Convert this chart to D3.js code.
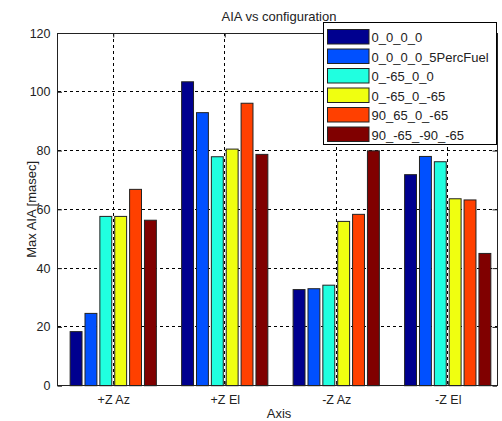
<!DOCTYPE html>
<html><head><meta charset="utf-8">
<script src="https://cdn.jsdelivr.net/npm/d3@7"></script>
<style>body{margin:0;background:#fff;}svg{display:block;font-family:"Liberation Sans",Arial,sans-serif;}</style>
</head><body>
<script>
const categories = ["+Z Az", "+Z El", "-Z Az", "-Z El"];
const seriesNames = ["0_0_0_0", "0_0_0_0_5PercFuel", "0_-65_0_0", "0_-65_0_-65", "90_65_0_-65", "90_-65_-90_-65"];
const seriesColors = ["#00008F", "#0050FF", "#20FFE0", "#F0FF10", "#FF4000", "#800000"];
const s0 = [18.4, 103.4, 32.7, 71.8];
const s1 = [24.6, 92.9, 33.0, 78.0];
const s2 = [57.6, 77.9, 34.2, 76.2];
const s3 = [57.6, 80.5, 55.9, 63.6];
const s4 = [66.8, 96.1, 58.3, 63.2];
const s5 = [56.3, 78.7, 79.9, 45.0];
const series = [s0, s1, s2, s3, s4, s5];
const yTicks = [0, 20, 40, 60, 80, 100, 120];

const W = 502, H = 421;
const L = 57.5, R = 497, T = 33, B = 385.7;
const svg = d3.select("body").append("svg").attr("width", W).attr("height", H);

const x = d3.scaleLinear().domain([0.5, 4.442]).range([L, R]);
const y = d3.scaleLinear().domain([0, 120]).range([B, T]);

// grid
const g = svg.append("g");
yTicks.slice(1, -1).forEach(t => {
  g.append("line").attr("x1", L).attr("x2", R).attr("y1", y(t)).attr("y2", y(t))
    .attr("stroke", "#000").attr("stroke-width", 1).attr("stroke-dasharray", "3,3").attr("shape-rendering", "crispEdges");
});
categories.forEach((c, i) => {
  g.append("line").attr("x1", x(i + 1)).attr("x2", x(i + 1)).attr("y1", T).attr("y2", B)
    .attr("stroke", "#000").attr("stroke-width", 1).attr("stroke-dasharray", "3,3").attr("shape-rendering", "crispEdges");
});

// bars
const n = series.length;
const sub = 0.8 / n;
const bw = sub * 0.8;
series.forEach((s, j) => {
  const off = -0.4 + (j + 0.5) * sub;
  svg.append("g").selectAll("rect").data(s).join("rect")
    .attr("x", (d, i) => x(i + 1 + off - bw / 2))
    .attr("width", x(bw) - x(0))
    .attr("y", d => y(d))
    .attr("height", d => y(0) - y(d))
    .attr("fill", seriesColors[j])
    .attr("stroke", "#222").attr("stroke-width", 1);
});

// axes box
const ax = svg.append("g");
ax.append("rect").attr("x", L).attr("y", T).attr("width", R - L).attr("height", B - T)
  .attr("fill", "none").attr("stroke", "#222").attr("stroke-width", 1).attr("shape-rendering", "crispEdges");

const tl = 4.5;
const yAxis = d3.axisLeft(y).tickValues(yTicks).tickSize(-tl).tickPadding(7).tickFormat(d3.format("d"));
const ya = svg.append("g").attr("transform", `translate(${L},0)`).call(yAxis);
ya.select(".domain").remove();
ya.selectAll("line").attr("stroke", "#222");
ya.selectAll("text").attr("font-size", "12.5px").attr("fill", "#222").attr("font-family", "Liberation Sans, Arial, sans-serif");

const yr = svg.append("g").attr("transform", `translate(${R},0)`).call(d3.axisRight(y).tickValues(yTicks).tickSize(-tl).tickFormat(""));
yr.select(".domain").remove();
yr.selectAll("line").attr("stroke", "#222");

const xs = d3.axisBottom(x).tickValues([1, 2, 3, 4]).tickSize(-tl).tickPadding(9).tickFormat((d) => categories[d - 1]);
const xa = svg.append("g").attr("transform", `translate(0,${B})`).call(xs);
xa.select(".domain").remove();
xa.selectAll("line").attr("stroke", "#222");
xa.selectAll("text").attr("font-size", "12.5px").attr("fill", "#222").attr("font-family", "Liberation Sans, Arial, sans-serif");

const xt = svg.append("g").attr("transform", `translate(0,${T})`).call(d3.axisTop(x).tickValues([1, 2, 3, 4]).tickSize(-tl).tickFormat(""));
xt.select(".domain").remove();
xt.selectAll("line").attr("stroke", "#222");

// titles
svg.append("text").attr("x", 279).attr("y", 21).attr("text-anchor", "middle")
  .attr("font-size", "13px").attr("fill", "#222").text("AIA vs configuration");
svg.append("text").attr("x", 279).attr("y", 418).attr("text-anchor", "middle")
  .attr("font-size", "13px").attr("fill", "#222").text("Axis");
svg.append("text").attr("transform", `translate(36,${(T + B) / 2}) rotate(-90)`).attr("text-anchor", "middle")
  .attr("font-size", "13px").attr("fill", "#222").text("Max AIA [masec]");

// legend
const lg = svg.append("g");
lg.append("rect").attr("x", 323).attr("y", 22.5).attr("width", 173.5).attr("height", 121.5)
  .attr("fill", "#fff").attr("stroke", "#000").attr("stroke-width", 1).attr("shape-rendering", "crispEdges");
seriesNames.forEach((nm, j) => {
  const yy = 29.5 + j * 19.5;
  lg.append("rect").attr("x", 327.5).attr("y", yy).attr("width", 41.5).attr("height", 14.5)
    .attr("fill", seriesColors[j]).attr("stroke", "#222").attr("stroke-width", 1);
  lg.append("text").attr("x", 371.5).attr("y", yy + 12.5).attr("font-size", "13px").attr("fill", "#222").text(nm);
});
</script>
</body></html>
